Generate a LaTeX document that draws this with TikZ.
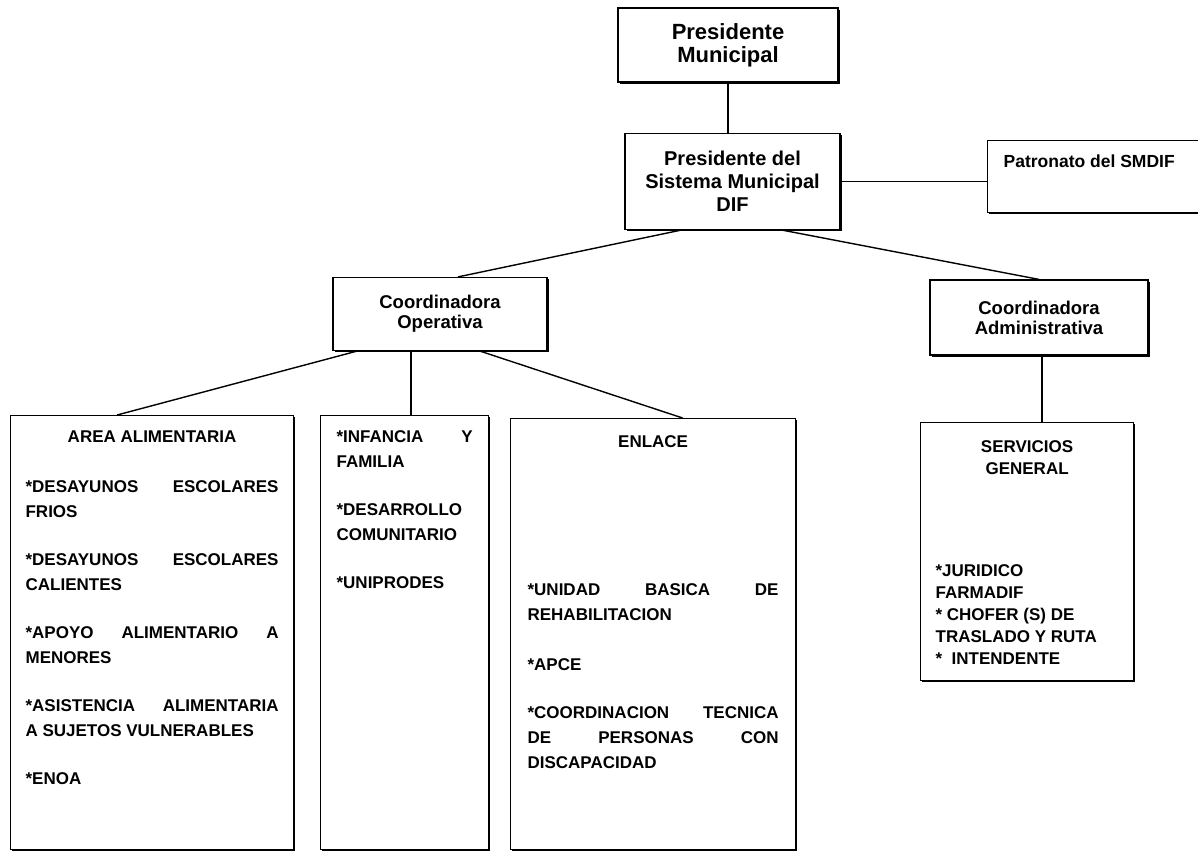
\documentclass[tikz,border=0pt]{standalone}
\usepackage{fontspec}
\setmainfont{Liberation Sans}
\usetikzlibrary{positioning, shadows}

\begin{document}
\begin{tikzpicture}[
      x=1pt, y=1pt,
      unit/.style={draw, line width=1.2pt, fill=white, inner sep=0pt,
        drop shadow={shadow xshift=1.6pt, shadow yshift=-1.6pt,
          fill=black, opacity=1}},
      head/.style={unit, align=center,
        font=\bfseries\fontsize{20}{23}\selectfont},
      coord/.style={unit, align=center,
        font=\bfseries\fontsize{18.5}{20}\selectfont},
      area/.style={unit, anchor=north west,
        font=\bfseries\fontsize{17}{25}\selectfont},
      link/.style={line width=1.4pt}
    ]
      \useasboundingbox (0,0) rectangle (1198,-854);
      \fill[white] (0,0) rectangle (1198,-854);
      \clip (0,0) rectangle (1198,-854);

      % top of the chart
      \node[head, minimum width=220pt, minimum height=74pt,
        font=\bfseries\fontsize{22}{23}\selectfont] (pm) at (728,-45)
        {Presidente\\Municipal};
      \node[head, minimum width=215pt, minimum height=96pt,
        below=50pt of pm, xshift=4.5pt] (smdif)
        {Presidente del\\Sistema Municipal\\DIF};
      \node[unit, anchor=north west, inner xsep=16pt, inner ysep=14.5pt,
        font=\bfseries\fontsize{17.5}{22}\selectfont] (patr) at (987,-140)
        {\parbox[t][43pt][t]{191pt}{Patronato del SMDIF}};

      % coordinations
      \node[coord, minimum width=214pt, minimum height=73pt] (coop)
        at (440,-314) {Coordinadora\\Operativa};
      \node[coord, minimum width=218pt, minimum height=75pt] (coad)
        at (1039,-317.5) {Coordinadora\\Administrativa};

      % areas
      \node[area, inner xsep=15pt, inner ysep=15pt] (alim) at (10,-415)
        {\parbox[t][404pt][t]{253pt}{%
          \makebox[\linewidth]{AREA ALIMENTARIA}\\[25pt]
          *DESAYUNOS\hfill ESCOLARES\\FRIOS\\[23pt]
          *DESAYUNOS\hfill ESCOLARES\\CALIENTES\\[23pt]
          *APOYO\hfill ALIMENTARIO\hfill A\\MENORES\\[23pt]
          *ASISTENCIA\hfill ALIMENTARIA\\A SUJETOS VULNERABLES\\[23pt]
          *ENOA}};
      \node[area, inner xsep=16pt, inner ysep=15pt] (infa) at (320,-415)
        {\parbox[t][404pt][t]{136pt}{%
          *INFANCIA\hfill Y\\FAMILIA\\[23pt]
          *DESARROLLO\\COMUNITARIO\\[23pt]
          *UNIPRODES}};
      \node[area, inner xsep=17pt, inner ysep=17pt] (enla) at (510,-418)
        {\parbox[t][397pt][t]{251pt}{%
          \makebox[\linewidth]{ENLACE}\\[123pt]
          *UNIDAD\hfill BASICA\hfill DE\\REHABILITACION\\[25pt]
          *APCE\\[23pt]
          *COORDINACION\hfill TECNICA\\DE\hfill PERSONAS\hfill CON\\
          DISCAPACIDAD}};
      \node[area, inner xsep=15pt, inner ysep=18pt,
        font=\bfseries\fontsize{17}{22}\selectfont] (serv) at (920,-422)
        {\parbox[t][222pt][t]{183pt}{%
          \makebox[\linewidth]{SERVICIOS}\\
          \makebox[\linewidth]{GENERAL}\\[80pt]
          *JURIDICO\\FARMADIF\\\relax* CHOFER (S) DE\\TRASLADO Y RUTA\\
          \relax*\ \ INTENDENTE}};

      % connectors
      \draw[link] (pm.south) -- (pm.south |- smdif.north);
      \draw[link] (smdif.east) -- (smdif.east -| patr.west);
      \draw[link] ([xshift=-50pt]smdif.south) -- ([xshift=18pt]coop.north);
      \draw[link] ([xshift=48pt]smdif.south) -- (coad.north);
      \draw[link] ([xshift=-83pt]coop.south) -- ([xshift=-35pt]alim.north);
      \draw[link] ([xshift=-29pt]coop.south)
        -- ([xshift=-29pt]coop.south |- infa.north);
      \draw[link] ([xshift=40pt]coop.south) -- ([xshift=29.5pt]enla.north);
      \draw[link] ([xshift=3pt]coad.south)
        -- ([xshift=3pt]coad.south |- serv.north);
    \end{tikzpicture}
\end{document}
